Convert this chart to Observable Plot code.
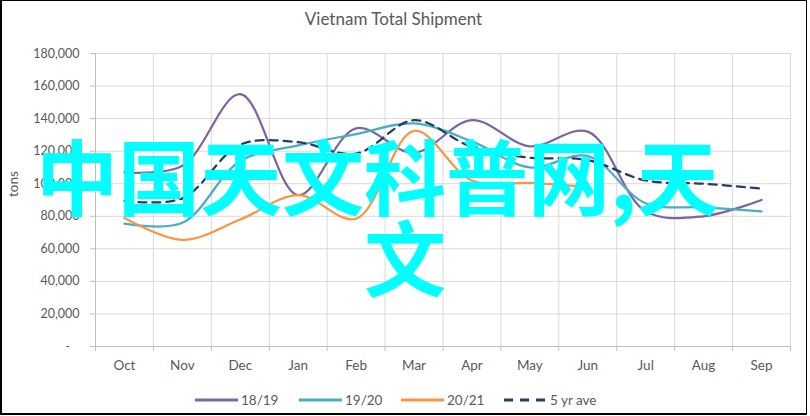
<!DOCTYPE html>
<html><head><meta charset="utf-8">
<script src="https://cdn.jsdelivr.net/npm/d3@7"></script>
<script src="https://cdn.jsdelivr.net/npm/@observablehq/plot@0.6"></script>
<style>
html,body{margin:0;padding:0;background:#fff;}
#wrap{position:relative;width:810px;height:416px;overflow:hidden;font-family:Lato,"Open Sans",sans-serif;color:#595959;}
#frame{position:absolute;left:0;top:0;width:807px;height:415px;box-sizing:border-box;border-style:solid;border-color:#000;border-width:1px 1px 2px 2px;pointer-events:none;}
#title{position:absolute;left:0;width:787px;top:8px;text-align:center;font-size:17px;color:#595959;}
#chart{position:absolute;left:0;top:0;}
.leg{position:absolute;top:391px;height:18px;display:flex;align-items:center;font-size:13.5px;color:#595959;white-space:nowrap;}
.leg svg{margin-right:3px;}
#wm{position:absolute;left:0;top:0;pointer-events:none;}
</style>
</head><body>
<div id="wrap">
  <div id="chart"></div>
  <div id="title">Vietnam Total Shipment</div>
  <div id="legend"></div>
  <svg id="wm" width="810" height="416"></svg>
  <div id="frame"></div>
</div>
<script>
const months = ["Oct","Nov","Dec","Jan","Feb","Mar","Apr","May","Jun","Jul","Aug","Sep"];
const s1819 = [107000, 111000, 155000, 93000, 134000, 119000, 139000, 123000, 132000, 83000, 80000, 90000];
const s1920 = [75500, 76000, 114000, 123500, 130500, 137000, 126000, 110000, 117000, 88000, 85500, 83000];
const s2021 = [79000, 65500, 78000, 93000, 78500, 132500, 102000, 100500, 98000];
const avg5  = [89500, 91000, 124000, 125500, 118500, 139000, 122500, 116000, 114500, 102000, 100000, 97000];
const seriesNames = ["18/19", "19/20", "20/21", "5 yr ave"];
const yTicks = [0, 20000, 40000, 60000, 80000, 100000, 120000, 140000, 160000, 180000];
const yTitle = "tons";
const watermark = ["中国天文科普网,天", "文"];

// styles
const seriesColors = ["#8064A2", "#4BACC6", "#F79646", "#1F3F66"];
const dashed = [false, false, false, true];

const seriesValues = [s1819, s1920, s2021, avg5];
const rows = [];
seriesNames.forEach((name, k) => seriesValues[k].forEach((v, i) => rows.push({series: name, i, v, dashed: dashed[k]})));
const bounds = d3.range(-0.5, months.length, 1);

const chart = Plot.plot({
  width: 810, height: 416,
  marginLeft: 95, marginRight: 20, marginTop: 53, marginBottom: 70,
  style: {fontFamily: "Lato, 'Open Sans', sans-serif", color: "#595959", background: "transparent", overflow: "visible"},
  x: {type: "linear", domain: [-0.5, months.length - 0.5]},
  y: {domain: [0, 180000]},
  color: {domain: seriesNames, range: seriesColors},
  marks: [
    Plot.ruleY(yTicks.slice(1), {stroke: "#d9d9d9", strokeWidth: 1}),
    Plot.ruleX(bounds.slice(1), {stroke: "#d9d9d9", strokeWidth: 1}),
    Plot.ruleY([0], {stroke: "#bfbfbf", strokeWidth: 1}),
    Plot.ruleX([-0.5], {stroke: "#bfbfbf", strokeWidth: 1}),
    Plot.axisY({ticks: yTicks, tickSize: 5, tickPadding: 11, stroke: "#bfbfbf", fill: "#595959", fontSize: 12.5, label: null,
      tickFormat: d => d === 0 ? "-\u00a0\u00a0\u00a0" : d3.format(",")(d)}),
    Plot.axisX({ticks: bounds, tickSize: 5, stroke: "#bfbfbf", tickFormat: () => "", label: null}),
    Plot.axisX({ticks: d3.range(months.length), tickSize: 0, tickPadding: 14, fill: "#595959", fontSize: 13.5, label: null,
      tickFormat: i => months[i]}),
    Plot.text([yTitle], {frameAnchor: "left", dx: -82, dy: -3, rotate: -90, fontSize: 13.5, fill: "#595959"}),
    Plot.line(rows.filter(d => !d.dashed), {x: "i", y: "v", z: "series", stroke: "series", strokeWidth: 2.25, curve: "catmull-rom"}),
    Plot.line(rows.filter(d => d.dashed), {x: "i", y: "v", z: "series", stroke: "series", strokeWidth: 2.25, curve: "catmull-rom", strokeDasharray: "8,6"})
  ]
});
document.getElementById("chart").appendChild(chart);

// legend
const legX = [195, 299, 401, 504];
const legend = d3.select("#legend");
seriesNames.forEach((name, k) => {
  const item = legend.append("div").attr("class", "leg").style("left", legX[k] + "px");
  const sw = item.append("svg").attr("width", 43).attr("height", 6);
  sw.append("line").attr("x1", 0).attr("x2", 43).attr("y1", 3).attr("y2", 3)
    .attr("stroke", seriesColors[k]).attr("stroke-width", 3)
    .attr("stroke-dasharray", dashed[k] ? "9,7" : null);
  item.append("span").text(name);
});

// watermark overlay
const wm = d3.select("#wm");
const wmPos = [[36, 209], [364, 290]];
watermark.forEach((t, k) => {
  wm.append("text").attr("x", wmPos[k][0]).attr("y", wmPos[k][1])
    .attr("fill", "#00FFFF").attr("font-size", 82).attr("font-weight", "bold")
    .attr("font-family", "'Noto Sans CJK SC', sans-serif").text(t);
});
</script>
</body></html>
